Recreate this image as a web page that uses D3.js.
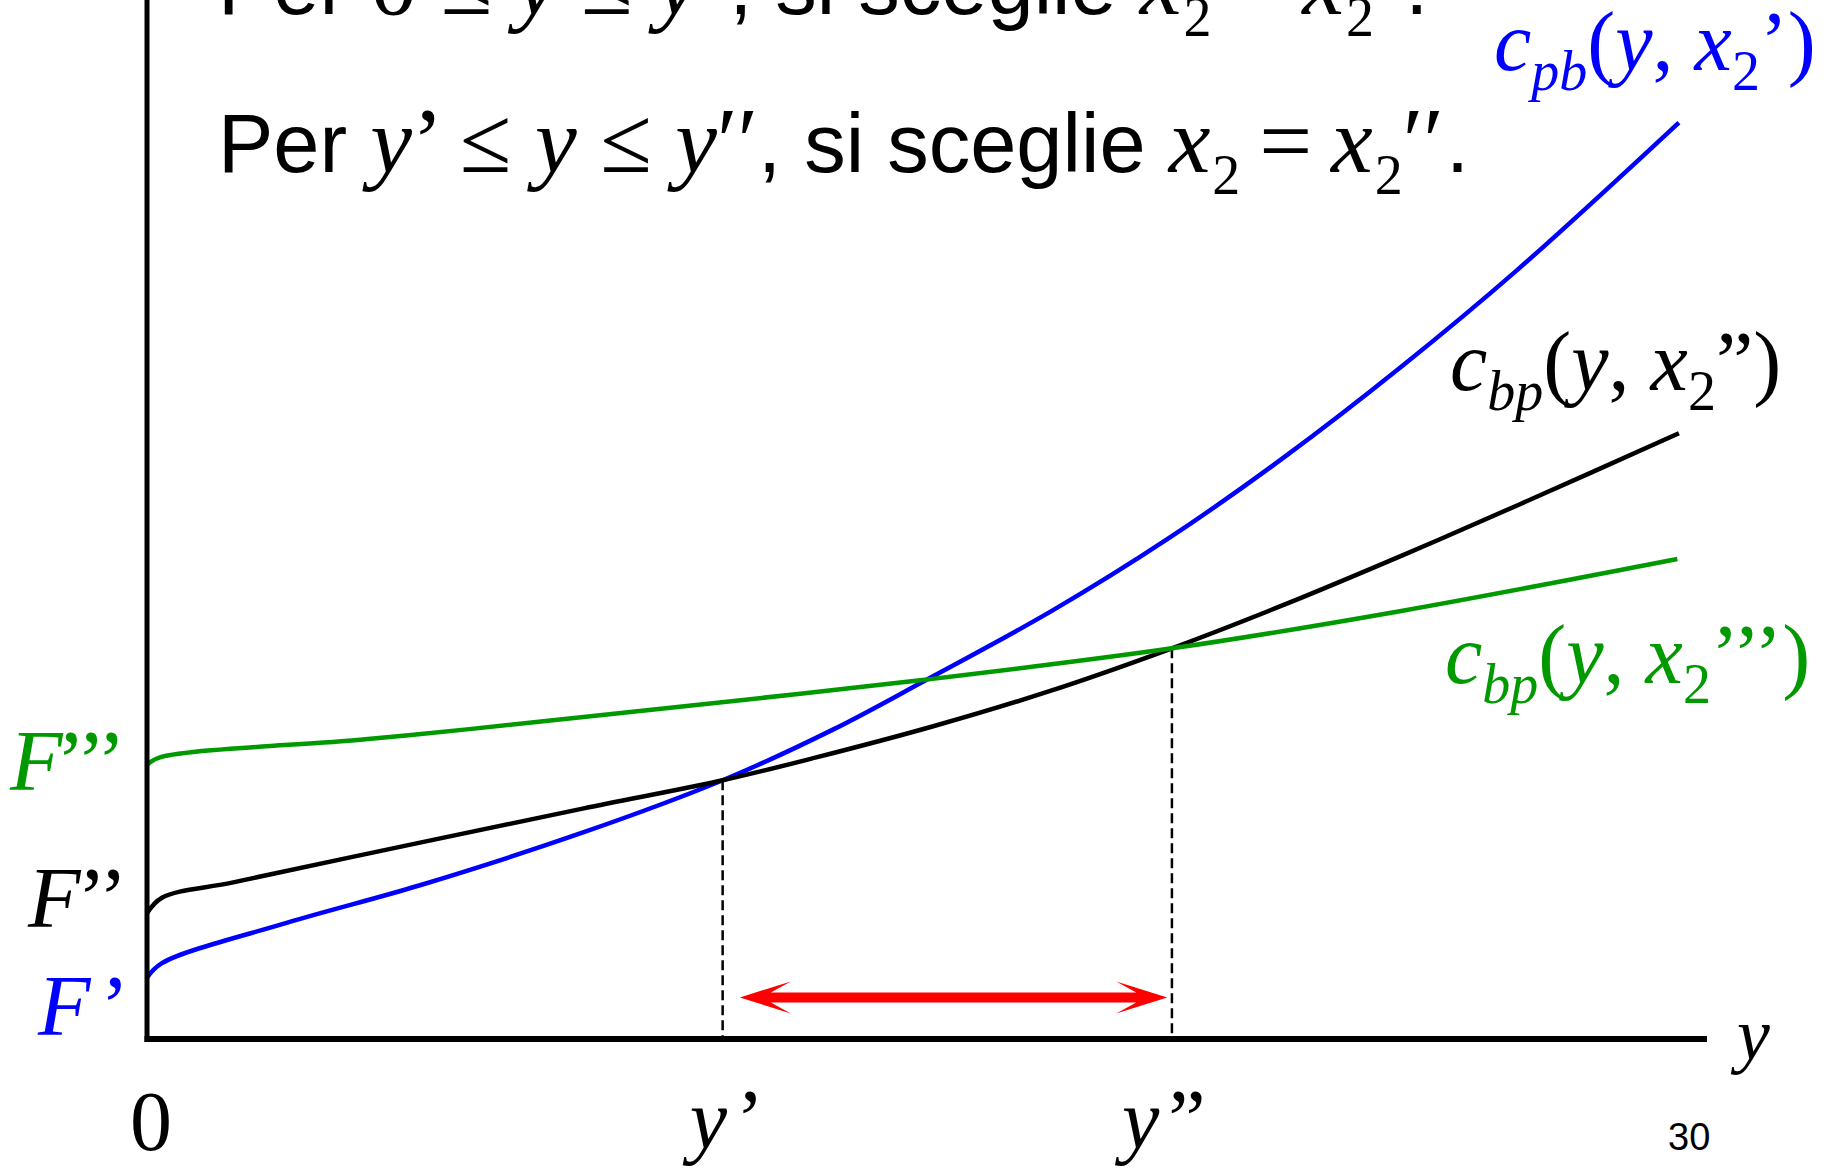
<!DOCTYPE html>
<html><head><meta charset="utf-8">
<script src="https://cdn.jsdelivr.net/npm/d3@7"></script>
<style>html,body{margin:0;padding:0;background:#fff;overflow:hidden}svg{display:block}</style>
</head><body>
<svg id="chart" width="1831" height="1168"></svg>
<script>
// Total cost curves c(y, x2) for three fixed plant sizes x2', x2'', x2'''
const blueX   = [0, 0.96, 9, 17.5, 28, 36.9, 44, 50, 58, 65.5, 72.9, 80.4, 87.9, 98.2];
const blueC   = [5.9, 7.3, 11.2, 14.8, 19.9, 24.9, 29.8, 34.6, 41.2, 48.2, 56.0, 64.7, 74.1, 88.2];
const blackX  = [0, 0.96, 5.6, 17.5, 28, 36.9, 42.9, 50.4, 57.9, 65.7, 72.9, 80.4, 87.9, 98.2];
const blackC  = [12.1, 13.6, 15.1, 18.9, 22.2, 24.9, 27.1, 30.1, 33.5, 37.6, 41.8, 46.5, 51.4, 58.3];
const greenX  = [0, 0.83, 13.65, 20.5, 35.5, 50, 65.7, 80.4, 98.1];
const greenC  = [26.4, 27.1, 28.8, 29.8, 32.2, 34.6, 37.6, 41.2, 46.2];

// switching outputs y' and y'' and the interval arrow between them
const yPrime = 36.9, yDouble = 65.7;
const arrowFrom = 38, arrowTo = 65.4, arrowLevel = 4;
const axisMax = 100;

const svg = d3.select("#chart");
const x = d3.scaleLinear().domain([0, axisMax]).range([147, 1707]);
const y = d3.scaleLinear().domain([0, axisMax]).range([1039, 0]);

const SERIF = "'Liberation Serif','Times New Roman',serif";
const SANS = "'Liberation Sans',Arial,sans-serif";
const BLUE = "#0000ff", GREEN = "#009900", RED = "#ff0000";

const series = [
  {xs: blueX, cs: blueC, color: BLUE},
  {xs: blackX, cs: blackC, color: "#000"},
  {xs: greenX, cs: greenC, color: GREEN}
];

// dashed guides from the crossings down to the y axis
const costAt = (xs, cs, v) => cs[xs.indexOf(v)];
const guides = [
  {v: yPrime, c: costAt(blackX, blackC, yPrime)},
  {v: yDouble, c: costAt(blackX, blackC, yDouble)}
];
svg.selectAll("line.guide").data(guides).join("line")
  .attr("class", "guide")
  .attr("x1", d => x(d.v)).attr("x2", d => x(d.v))
  .attr("y1", d => y(d.c)).attr("y2", y(0))
  .attr("stroke", "#000").attr("stroke-width", 2.5)
  .attr("stroke-dasharray", "10,5");

// cost curves
const line = d3.line().x(d => x(d[0])).y(d => y(d[1])).curve(d3.curveCatmullRom.alpha(0.5));
svg.selectAll("path.cost").data(series).join("path")
  .attr("class", "cost")
  .attr("d", s => line(s.xs.map((v, i) => [v, s.cs[i]])))
  .attr("fill", "none").attr("stroke", s => s.color)
  .attr("stroke-width", 4.5).attr("stroke-linejoin", "round");

// axes
svg.append("line").attr("x1", x(0)).attr("x2", x(0))
  .attr("y1", y(axisMax)).attr("y2", y(0) + 3)
  .attr("stroke", "#000").attr("stroke-width", 5);
svg.append("line").attr("x1", x(0) - 2.5).attr("x2", x(axisMax))
  .attr("y1", y(0)).attr("y2", y(0))
  .attr("stroke", "#000").attr("stroke-width", 6);

// double-headed arrow marking y' <= y <= y''
function arrowPath(x0, x1, yy) {
  const L = 51, W = 16, N = 31, T = 5;
  const p = d3.path();
  p.moveTo(x0, yy);
  p.lineTo(x0 + L, yy - W);
  p.lineTo(x0 + N, yy - T);
  p.lineTo(x1 - N, yy - T);
  p.lineTo(x1 - L, yy - W);
  p.lineTo(x1, yy);
  p.lineTo(x1 - L, yy + W);
  p.lineTo(x1 - N, yy + T);
  p.lineTo(x0 + N, yy + T);
  p.lineTo(x0 + L, yy + W);
  p.closePath();
  return p.toString();
}
svg.append("path").attr("d", arrowPath(x(arrowFrom), x(arrowTo), y(arrowLevel)))
  .attr("fill", RED);

// rich text helper: runs of [text, style, dx]
function rich(xPos, yPos, runs, color, base) {
  const t = svg.append("text").attr("x", xPos).attr("y", yPos)
    .attr("fill", color).attr("xml:space", "preserve");
  let shift = 0;
  runs.forEach(r => {
    const [txt, kind] = r;
    const ts = t.append("tspan").text(txt);
    let target = 0;
    if (kind === "i" || kind === "si") ts.attr("font-style", "italic");
    if (kind === "s" || kind === "si") target = base.sub;
    if (kind === "sans") ts.attr("font-family", SANS).attr("font-size", base.sans);
    else ts.attr("font-family", SERIF).attr("font-size", (kind === "s" || kind === "si") ? base.small : base.size);
    if (target !== shift) { ts.attr("dy", target - shift); shift = target; }
    if (r[2]) ts.attr("dx", r[2]);
  });
  return t;
}

// statement lines at the top
const topBase = {size: 94, small: 56, sub: 22, sans: 83};
const EQ = "\u2009=\u2009";
const topRuns1 = [["Per ", "sans"], ["0", "r"], [" \u2264 ", "r"], ["y", "i"], [" \u2264 ", "r"], ["y", "i"], ["\u2019", "r"],
  [", si sceglie ", "sans"], ["x", "i"], ["2", "s", 2], [EQ, "r"], ["x", "i"], ["2", "s", 2], ["\u2019", "r"], [".", "sans"]];
const topRuns2 = [["Per ", "sans"], ["y", "i"], ["\u2019", "r"], [" \u2264 ", "r"], ["y", "i"], [" \u2264 ", "r"], ["y", "i"], ["\u2032\u2032", "r"],
  [", si sceglie ", "sans"], ["x", "i"], ["2", "s", 2], [EQ, "r"], ["x", "i"], ["2", "s", 2], ["\u2032\u2032", "r"], [".", "sans", 2]];
rich(218, 14, topRuns1, "#000", topBase);
rich(218, 172, topRuns2, "#000", topBase);

// curve labels
const labBase = {size: 84, small: 56, sub: 20, sans: 84};
rich(1494, 70, [["c", "i"], ["pb", "si"], ["(", "r"], ["y", "i"], [", ", "r"], ["x", "i"], ["2", "s"], ["\u2019", "r"], [")", "r"]], BLUE, labBase);
rich(1450, 390, [["c", "i"], ["bp", "si"], ["(", "r"], ["y", "i"], [", ", "r"], ["x", "i"], ["2", "s"], ["\u201d", "r"], [")", "r"]], "#000", labBase);
rich(1445, 683, [["c", "i"], ["bp", "si"], ["(", "r"], ["y", "i"], [", ", "r"], ["x", "i"], ["2", "s"], ["\u2019\u2019\u2019", "r"], [")", "r"]], GREEN, labBase);

// fixed-cost labels on the vertical axis
const fBase = {size: 86, small: 56, sub: 0, sans: 86};
rich(10, 790, [["F", "i"], ["\u2019\u2019\u2019", "r", -4]], GREEN, fBase).attr("letter-spacing", -2);
rich(28, 927, [["F", "i"], ["\u2019\u2019", "r", -2]], "#000", fBase).attr("letter-spacing", -1);
rich(38, 1035, [["F", "i"], ["\u2019", "r", 10]], BLUE, fBase);

// horizontal axis labels
const bBase = {size: 84, small: 56, sub: 0, sans: 84};
rich(x(0) - 17, 1150, [["0", "r"]], "#000", bBase);
rich(x(yPrime) - 33, 1148, [["y", "i"], ["\u2019", "r", 9]], "#000", bBase);
rich(x(yDouble) - 50, 1148, [["y", "i"], ["\u201d", "r", 9]], "#000", bBase);
rich(1737, 1059, [["y", "i"]], "#000", {size: 74, small: 48, sub: 0, sans: 74});
svg.append("text").attr("x", 1668).attr("y", 1150).attr("font-family", SANS)
  .attr("font-size", 38).attr("fill", "#000").text("30");
</script>
</body></html>
